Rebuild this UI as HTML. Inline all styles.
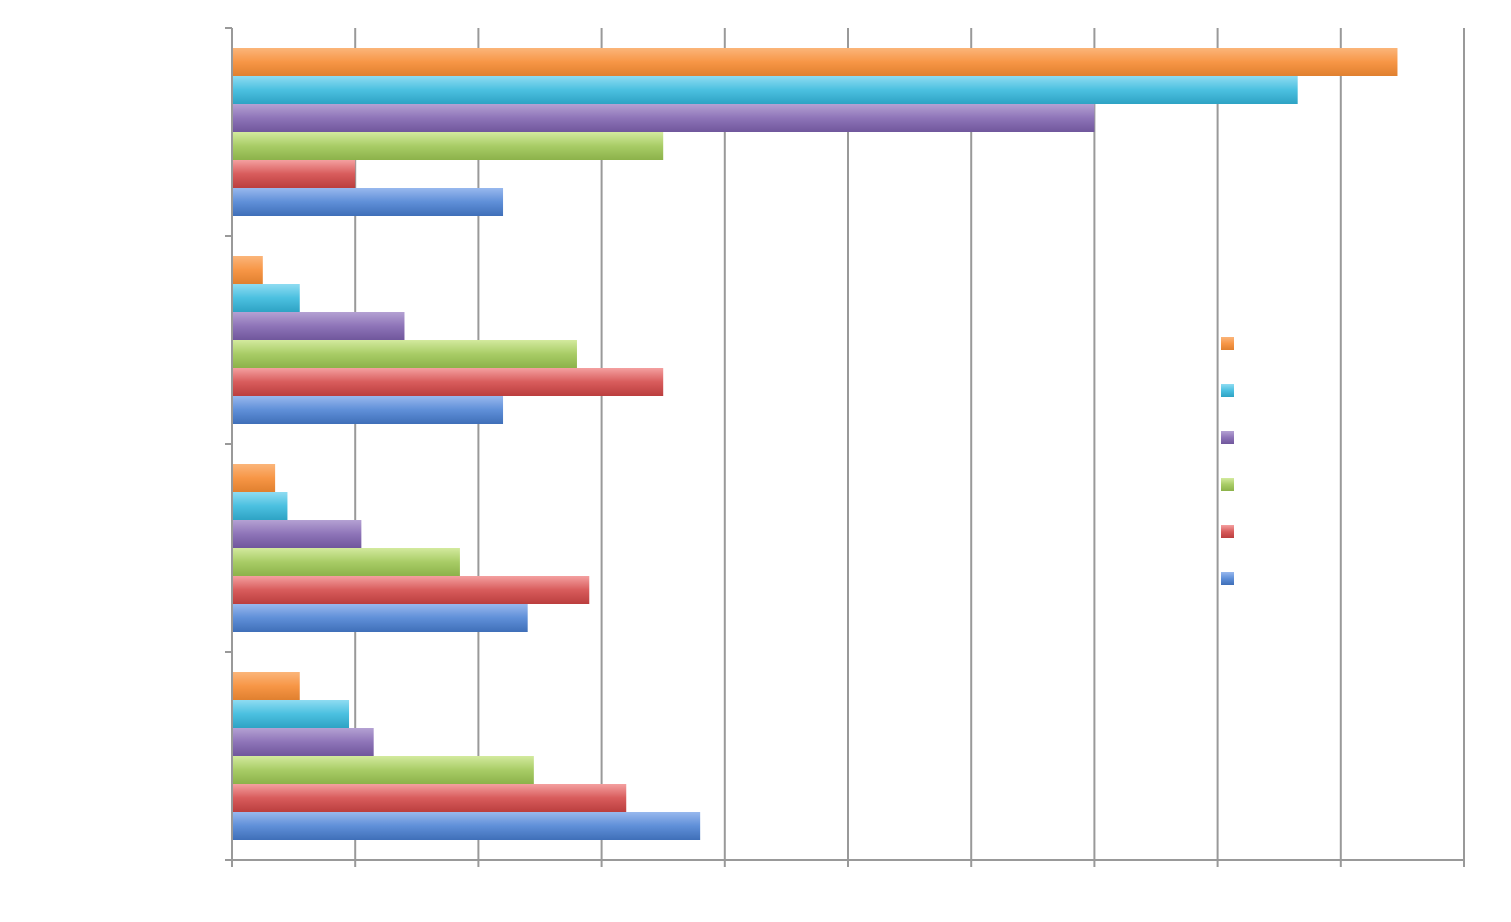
<!DOCTYPE html>
<html><head><meta charset="utf-8"><style>
html,body{margin:0;padding:0;background:#fff;}
svg{display:block;font-family:"Liberation Sans",sans-serif;}
</style></head><body>
<svg id="chart" width="1511" height="922">
<defs>
<linearGradient id="g-orange" x1="0" y1="0" x2="0" y2="1"><stop offset="0" stop-color="#fbb57a"/><stop offset="0.5" stop-color="#f79646"/><stop offset="1" stop-color="#e0802f"/></linearGradient>
<linearGradient id="g-cyan" x1="0" y1="0" x2="0" y2="1"><stop offset="0" stop-color="#8fdcf2"/><stop offset="0.5" stop-color="#4bc0e0"/><stop offset="1" stop-color="#2ea3c4"/></linearGradient>
<linearGradient id="g-purple" x1="0" y1="0" x2="0" y2="1"><stop offset="0" stop-color="#b4a1d3"/><stop offset="0.5" stop-color="#8e74b8"/><stop offset="1" stop-color="#70579c"/></linearGradient>
<linearGradient id="g-green" x1="0" y1="0" x2="0" y2="1"><stop offset="0" stop-color="#d3ea9e"/><stop offset="0.5" stop-color="#a8cc66"/><stop offset="1" stop-color="#8cb24a"/></linearGradient>
<linearGradient id="g-red" x1="0" y1="0" x2="0" y2="1"><stop offset="0" stop-color="#f4a0a0"/><stop offset="0.5" stop-color="#d85c5c"/><stop offset="1" stop-color="#bb3e3e"/></linearGradient>
<linearGradient id="g-blue" x1="0" y1="0" x2="0" y2="1"><stop offset="0" stop-color="#98b8ee"/><stop offset="0.5" stop-color="#5f8fd8"/><stop offset="1" stop-color="#3f6fb8"/></linearGradient>
</defs>
<g id="grid"></g>
<g id="bars"></g>
<g id="axes"></g>
<g id="legend"></g>
</svg>
<script>
const categories = ["Category 1","Category 2","Category 3","Category 4"];
const seriesNames = ["Series 6","Series 5","Series 4","Series 3","Series 2","Series 1"];
const seriesColors = ["orange","cyan","purple","green","red","blue"];
const s6 = [9.46, 0.25, 0.35, 0.55];
const s5 = [8.65, 0.55, 0.45, 0.95];
const s4 = [7.0, 1.4, 1.05, 1.15];
const s3 = [3.5, 2.8, 1.85, 2.45];
const s2 = [1.0, 3.5, 2.9, 3.2];
const s1 = [2.2, 2.2, 2.4, 3.8];
const seriesValues = [s6, s5, s4, s3, s2, s1];
const xTicks = [0,1,2,3,4,5,6,7,8,9,10];

const NS = "http://www.w3.org/2000/svg";
const X0 = 232, X1 = 1464, Y0 = 28, Y1 = 860;
const xMax = 10;
function xScale(v){ return X0 + (X1 - X0) * v / xMax; }
const bandH = (Y1 - Y0) / categories.length;
const barH = 28, groupPad = 20;
function mk(tag, attrs, parent){ const e = document.createElementNS(NS, tag); for (const k in attrs) e.setAttribute(k, attrs[k]); parent.appendChild(e); return e; }
const grid = document.getElementById('grid'), bars = document.getElementById('bars'), axes = document.getElementById('axes'), legend = document.getElementById('legend');

xTicks.forEach(t => {
  const x = xScale(t);
  const l = mk('line', {x1:x, x2:x, y1:Y0, y2:Y1+7, stroke:'#999', 'stroke-width':2}, grid);
  
  
});

categories.forEach((c, ci) => {
  seriesValues.forEach((vals, si) => {
    const y = Y0 + ci * bandH + groupPad + si * barH;
    const r = mk('rect', {x:X0, y:y, width:xScale(vals[ci]) - X0, height:barH, fill:'url(#g-' + seriesColors[si] + ')'}, bars);
    
    
  });
});

const ax = mk('line', {x1:X0-7, x2:X1, y1:Y1, y2:Y1, stroke:'#999', 'stroke-width':2}, axes);


const ay = mk('line', {x1:X0, x2:X0, y1:Y0, y2:Y1, stroke:'#999', 'stroke-width':2}, axes);


for (let i = 0; i <= categories.length; i++) {
  const y = Y0 + i * bandH;
  const t = mk('line', {x1:X0-7, x2:X0, y1:y, y2:y, stroke:'#999', 'stroke-width':2}, axes);
  
  
}

seriesNames.forEach((n, i) => {
  const y = 337 + i * 47;
  const r = mk('rect', {x:1221, y:y, width:13, height:13, fill:'url(#g-' + seriesColors[i] + ')'}, legend);
  
  
  const t = mk('text', {x:1242, y:y+12, fill:'#fff', 'font-size':16}, legend);
  t.textContent = n;
  
  
});
</script>
</body></html>
